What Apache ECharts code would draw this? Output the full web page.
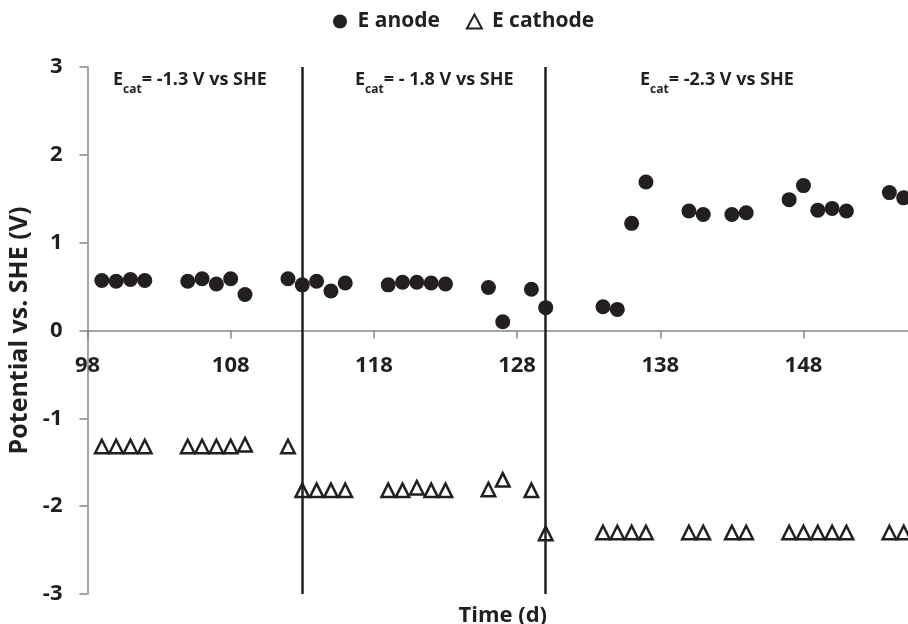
<!DOCTYPE html>
<html>
<head>
<meta charset="utf-8">
<script src="https://cdn.jsdelivr.net/npm/echarts@6/dist/echarts.min.js"></script>
<style>
  html, body { margin: 0; padding: 0; background: #fff; }
  #main { width: 908px; height: 624px; }
</style>
</head>
<body>
<div id="main"></div>
<script>
  // sampling days (same for both electrodes)
  var days = [99, 100, 101, 102, 105, 106, 107, 108, 109, 112, 113, 114, 115, 116,
              119, 120, 121, 122, 123, 126, 127, 129, 130, 134, 135, 136, 137,
              140, 141, 143, 144, 147, 148, 149, 150, 151, 154, 155];
  var anodeVals = [0.57, 0.56, 0.58, 0.57, 0.56, 0.59, 0.53, 0.59, 0.41, 0.59, 0.52, 0.56, 0.45, 0.54,
                   0.52, 0.55, 0.55, 0.54, 0.53, 0.49, 0.10, 0.47, 0.26, 0.27, 0.24, 1.22, 1.69,
                   1.36, 1.32, 1.32, 1.34, 1.49, 1.65, 1.37, 1.39, 1.36, 1.57, 1.51];
  var cathodeVals = [-1.32, -1.32, -1.32, -1.32, -1.32, -1.32, -1.32, -1.32, -1.30, -1.32, -1.82, -1.82, -1.82, -1.82,
                     -1.82, -1.82, -1.79, -1.82, -1.82, -1.81, -1.70, -1.82, -2.31, -2.30, -2.30, -2.30, -2.30,
                     -2.30, -2.30, -2.30, -2.30, -2.30, -2.30, -2.30, -2.30, -2.30, -2.30, -2.30];
  var phaseBounds = [113, 130];
  var phaseLabels = ['= -1.3 V vs SHE', '= - 1.8 V vs SHE', '= -2.3 V vs SHE'];
  var seriesNames = ['E anode', 'E cathode'];

  var ink = '#231f20';
  var axisGray = '#868686';
  var font = '"Open Sans", Lato, sans-serif';

  function pairs(xs, ys) {
    var out = [];
    for (var i = 0; i < xs.length; i++) out.push([xs[i], ys[i]]);
    return out;
  }

  // text positions of the three E_cat notes (left edge, px)
  var noteX = [113, 355, 640];
  var notes = [];
  for (var k = 0; k < phaseLabels.length; k++) {
    notes.push({
      type: 'text',
      left: noteX[k],
      top: 71,
      style: {
        text: '{m|E}{s|cat}{m|' + phaseLabels[k] + '}',
        fill: ink,
        rich: {
          m: { fontFamily: font, fontWeight: 'bold', fontSize: 18, lineHeight: 22, verticalAlign: 'top', fill: ink },
          s: { fontFamily: font, fontWeight: 'bold', fontSize: 12, lineHeight: 14, padding: [13, 0, 0, 0], verticalAlign: 'top', fill: ink }
        }
      }
    });
  }

  var chart = echarts.init(document.getElementById('main'));
  chart.setOption({
    animation: false,
    backgroundColor: '#fff',
    textStyle: { fontFamily: font },
    legend: {
      left: 333,
      top: 11,
      padding: 0,
      itemWidth: 15,
      itemHeight: 14,
      itemGap: 26,
      data: seriesNames,
      textStyle: { fontFamily: font, fontWeight: 'bold', fontSize: 21, color: ink, padding: [0, 0, 0, 5] }
    },
    grid: { left: 87.5, right: 0, top: 67, bottom: 30, containLabel: false, outerBoundsMode: 'none' },
    graphic: notes,
    xAxis: {
      type: 'value',
      min: 98,
      max: 155.3,
      interval: 10,
      name: 'Time (d)',
      nameLocation: 'middle',
      nameGap: 11,
      nameTextStyle: { fontFamily: font, fontWeight: 'bold', fontSize: 22, color: ink, padding: [0, 0, 0, 10] },
      axisLine: { onZero: true, lineStyle: { color: axisGray, width: 1.5 } },
      axisTick: { show: true, length: 8, lineStyle: { color: axisGray, width: 1.5 } },
      // labels sit under the zero line, not under the grid bottom
      axisLabel: { margin: -239, showMaxLabel: false, fontFamily: font, fontWeight: 'bold', fontSize: 22, color: ink },
      splitLine: { show: false }
    },
    yAxis: {
      type: 'value',
      min: -3,
      max: 3,
      interval: 1,
      name: 'Potential vs. SHE (V)',
      nameLocation: 'middle',
      nameGap: 50,
      nameTextStyle: { fontFamily: font, fontWeight: 'bold', fontSize: 25, color: ink },
      axisLine: { show: true, lineStyle: { color: axisGray, width: 1.5 } },
      axisTick: { show: true, length: 8, lineStyle: { color: axisGray, width: 1.5 } },
      axisLabel: { margin: 25, fontFamily: font, fontWeight: 'bold', fontSize: 22, color: ink },
      splitLine: { show: false }
    },
    series: [
      {
        name: seriesNames[0],
        type: 'scatter',
        symbol: 'circle',
        symbolSize: 15,
        itemStyle: { color: ink, opacity: 1 },
        data: pairs(days, anodeVals),
        markLine: {
          silent: true,
          symbol: ['none', 'none'],
          label: { show: false },
          lineStyle: { type: 'solid', color: ink, width: 2.5 },
          data: [{ xAxis: phaseBounds[0] }, { xAxis: phaseBounds[1] }]
        }
      },
      {
        name: seriesNames[1],
        type: 'scatter',
        symbol: 'triangle',
        symbolSize: 13.5,
        itemStyle: { color: '#fff', borderColor: ink, borderWidth: 2.5, opacity: 1 },
        data: pairs(days, cathodeVals)
      }
    ]
  });
</script>
</body>
</html>
